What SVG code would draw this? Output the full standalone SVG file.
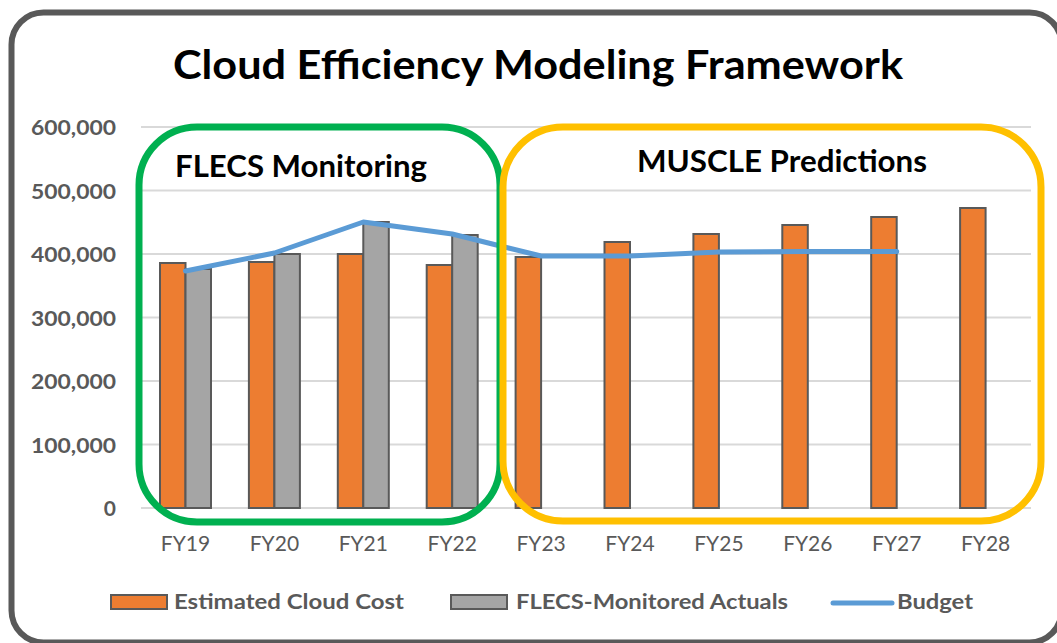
<svg xmlns="http://www.w3.org/2000/svg" width="1057" height="643" viewBox="0 0 1057 643">
  <style>
    .t { font-family: Lato, "Liberation Sans", "DejaVu Sans", sans-serif; }
    .ylab { font-size: 21px; font-weight: bold; fill: #595959; text-anchor: end; }
    .xlab { font-size: 21px; fill: #595959; text-anchor: middle; }
    .leg { font-size: 21px; font-weight: bold; fill: #595959; }
    .grid { stroke: #d9d9d9; stroke-width: 2; }
    .est { fill: #ED7D31; stroke: #595959; stroke-width: 2; }
    .act { fill: #A5A5A5; stroke: #595959; stroke-width: 2; }
    .budget { fill: none; stroke: #5B9BD5; stroke-width: 5; stroke-linejoin: round; stroke-linecap: round; }
    .box { fill: none; stroke-width: 7; }
  </style>
  <rect width="1057" height="643" fill="#ffffff"/>
  <g id="frame">
    <rect x="11.5" y="12.5" width="1050" height="630" rx="32" ry="32" fill="#ffffff" stroke="#595959" stroke-width="6"/>
  </g>
  <g id="title">
    <text class="t" x="173" y="79" font-size="40" font-weight="bold" fill="#000000" textLength="730" lengthAdjust="spacingAndGlyphs">Cloud Efficiency Modeling Framework</text>
  </g>
  <g id="gridlines">
    <line class="grid" x1="141" y1="127" x2="1031" y2="127"/>
    <line class="grid" x1="141" y1="190.5" x2="1031" y2="190.5"/>
    <line class="grid" x1="141" y1="254" x2="1031" y2="254"/>
    <line class="grid" x1="141" y1="317.5" x2="1031" y2="317.5"/>
    <line class="grid" x1="141" y1="381" x2="1031" y2="381"/>
    <line class="grid" x1="141" y1="444.5" x2="1031" y2="444.5"/>
    <line class="grid" x1="141" y1="508" x2="1031" y2="508"/>
  </g>
  <g id="y-axis">
    <text class="t ylab" x="116" y="135" textLength="85" lengthAdjust="spacingAndGlyphs">600,000</text>
    <text class="t ylab" x="116" y="198.5" textLength="85" lengthAdjust="spacingAndGlyphs">500,000</text>
    <text class="t ylab" x="116" y="262" textLength="85" lengthAdjust="spacingAndGlyphs">400,000</text>
    <text class="t ylab" x="116" y="325.5" textLength="85" lengthAdjust="spacingAndGlyphs">300,000</text>
    <text class="t ylab" x="116" y="389" textLength="85" lengthAdjust="spacingAndGlyphs">200,000</text>
    <text class="t ylab" x="116" y="452.5" textLength="85" lengthAdjust="spacingAndGlyphs">100,000</text>
    <text class="t ylab" x="116" y="516">0</text>
  </g>
  <g id="x-axis">
    <text class="t xlab" x="185.5" y="551">FY19</text>
    <text class="t xlab" x="274.4" y="551">FY20</text>
    <text class="t xlab" x="363.3" y="551">FY21</text>
    <text class="t xlab" x="452.2" y="551">FY22</text>
    <text class="t xlab" x="541.1" y="551">FY23</text>
    <text class="t xlab" x="630" y="551">FY24</text>
    <text class="t xlab" x="718.9" y="551">FY25</text>
    <text class="t xlab" x="807.8" y="551">FY26</text>
    <text class="t xlab" x="896.7" y="551">FY27</text>
    <text class="t xlab" x="985.6" y="551">FY28</text>
  </g>
  <g id="series-estimated">
    <rect class="est" x="160" y="263" width="25.5" height="245"/>
    <rect class="est" x="248.9" y="262" width="25.5" height="246"/>
    <rect class="est" x="337.8" y="254" width="25.5" height="254"/>
    <rect class="est" x="426.7" y="265" width="25.5" height="243"/>
    <rect class="est" x="515.6" y="257" width="25.5" height="251"/>
    <rect class="est" x="604.5" y="242" width="25.5" height="266"/>
    <rect class="est" x="693.4" y="234" width="25.5" height="274"/>
    <rect class="est" x="782.3" y="225" width="25.5" height="283"/>
    <rect class="est" x="871.2" y="217" width="25.5" height="291"/>
    <rect class="est" x="960.1" y="208" width="25.5" height="300"/>
  </g>
  <g id="series-actuals">
    <rect class="act" x="185.5" y="269" width="25.5" height="239"/>
    <rect class="act" x="274.4" y="254" width="25.5" height="254"/>
    <rect class="act" x="363.3" y="222" width="25.5" height="286"/>
    <rect class="act" x="452.2" y="235" width="25.5" height="273"/>
  </g>
  <g id="series-budget">
    <polyline class="budget" points="185.5,271 274.4,253 363.3,222 452.2,234 541.1,256 630,256 718.9,252 807.8,251.5 896.7,251.5"/>
  </g>
  <g id="flecs-box">
    <rect class="box" x="139" y="127" width="361" height="395" rx="58" ry="58" stroke="#00B050"/>
    <text class="t" x="175" y="177" font-size="30" font-weight="bold" fill="#000000" textLength="252" lengthAdjust="spacingAndGlyphs">FLECS Monitoring</text>
  </g>
  <g id="muscle-box">
    <rect class="box" x="503" y="127" width="538" height="394" rx="60" ry="60" stroke="#FFC000"/>
    <text class="t" x="637" y="172" font-size="30" font-weight="bold" fill="#000000" textLength="290" lengthAdjust="spacingAndGlyphs">MUSCLE Predictions</text>
  </g>
  <g id="legend">
    <rect class="est" x="111" y="595" width="56" height="14"/>
    <text class="t leg" x="174" y="609" textLength="230" lengthAdjust="spacingAndGlyphs">Estimated Cloud Cost</text>
    <rect class="act" x="451" y="595" width="56" height="14"/>
    <text class="t leg" x="516" y="609" textLength="272" lengthAdjust="spacingAndGlyphs">FLECS-Monitored Actuals</text>
    <line class="budget" x1="833" y1="603" x2="892" y2="603"/>
    <text class="t leg" x="897" y="609" textLength="76" lengthAdjust="spacingAndGlyphs">Budget</text>
  </g>
</svg>
